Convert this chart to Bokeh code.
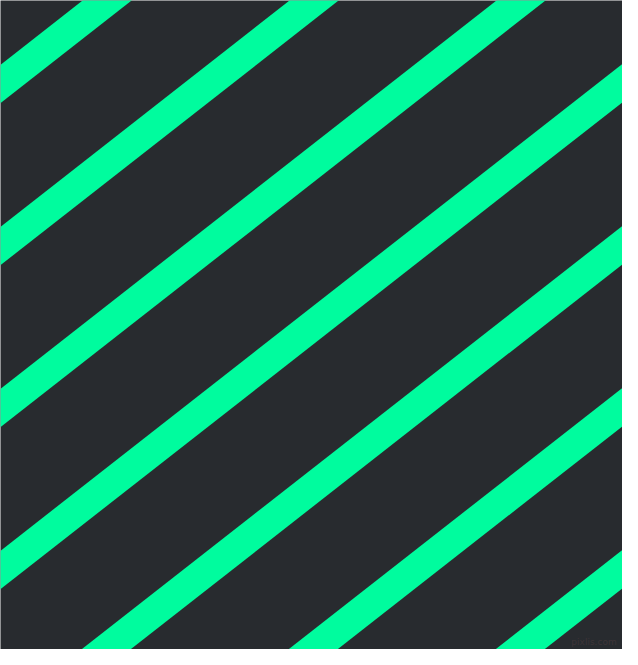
from bokeh.plotting import figure
from bokeh.models import Range1d
from bokeh.embed import file_html
from bokeh.resources import INLINE
from bokeh.core.properties import value

# Stripe data (reference pixel space, y measured from top)
stripe_left_y = [85.5, 251.5, 417.5, 583.5, 749.5, 915.5, 1081.5]  # y where each stripe meets the left edge
stripe_slope = 0.782  # rise per pixel to the right
stripe_x_start = -40
stripe_x_end = 680

W_REF, H_REF = 638, 665
W, H = 622, 649
scale = W / W_REF

x0 = [stripe_x_start] * len(stripe_left_y)
x1 = [stripe_x_end] * len(stripe_left_y)
y0 = [y - stripe_slope * stripe_x_start for y in stripe_left_y]
y1 = [y - stripe_slope * stripe_x_end for y in stripe_left_y]

p = figure(width=W, height=H, output_backend="svg", toolbar_location=None,
           x_range=Range1d(0, W_REF), y_range=Range1d(H_REF, 0),
           min_border=0)
p.axis.visible = False
p.grid.visible = False
p.outline_line_color = None
p.background_fill_color = "#282b2f"
p.border_fill_color = "#282b2f"

p.segment(x0=x0, y0=y0, x1=x1, y1=y1, line_color="#00fc9e",
          line_width=31 * scale, line_cap="butt")

p.text(x=[632], y=[662], text=["pixlis.com"], text_align="right",
       text_baseline="bottom", text_font=value("DejaVu Sans"),
       text_font_size="9px", text_color="#3d3438")

open("out.html", "w").write(file_html(p, INLINE))
